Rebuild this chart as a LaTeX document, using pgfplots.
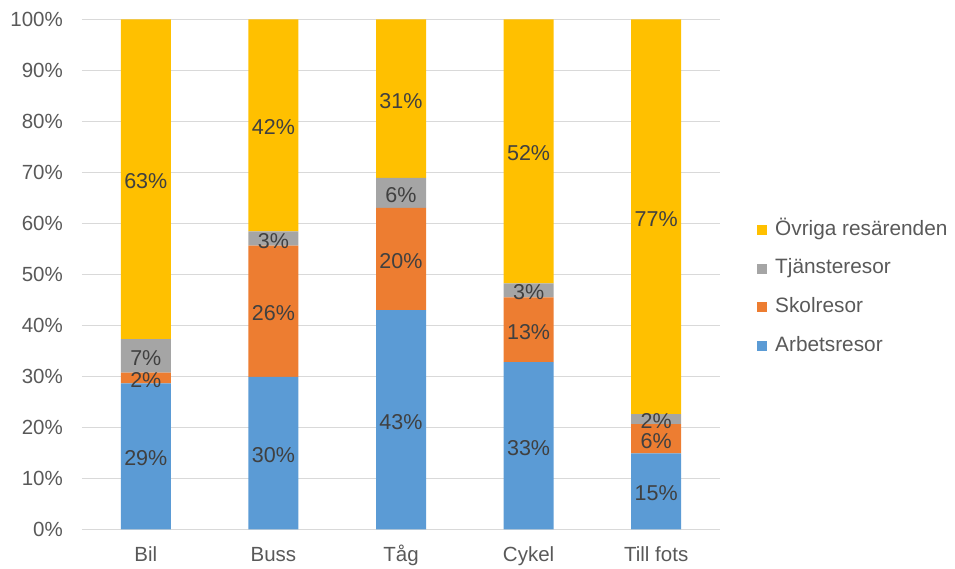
\documentclass[border=0pt]{standalone}
\usepackage{fontspec}
\setmainfont{Liberation Sans}
\usepackage{pgfplots}
\usepackage{pgfplotstable}
\pgfplotsset{compat=1.18}
\definecolor{cBlue}{HTML}{5B9BD5}
\definecolor{cOrange}{HTML}{ED7D31}
\definecolor{cGray}{HTML}{A5A5A5}
\definecolor{cYellow}{HTML}{FFC000}
\definecolor{gridgray}{HTML}{D9D9D9}
\definecolor{ticktext}{HTML}{595959}
\definecolor{labtext}{HTML}{404040}

\pgfplotstableread{
x arb sko tja ovr
0 28.6 2.1 6.6 62.7
1 29.9 25.7 2.8 41.6
2 43.0 20.0 5.9 31.1
3 32.8 12.7 2.7 51.8
4 14.9 5.7 2.0 77.4
}\data

\begin{document}
\begin{tikzpicture}
\useasboundingbox (-82pt,-38.7pt) rectangle (873pt,529.3pt);
\begin{axis}[
  scale only axis,
  width=638pt, height=510pt,
  ybar stacked,
  bar width=50pt,
  xmin=-0.5, xmax=4.5,
  ymin=0, ymax=100,
  xtick={0,1,2,3,4},
  xticklabels={Bil,Buss,Tåg,Cykel,Till fots},
  ytick={0,10,...,100},
  yticklabel={\pgfmathprintnumber{\tick}\%},
  /pgf/number format/assume math mode=true,
  major tick length=0pt,
  axis line style={draw=none},
  ymajorgrids,
  major grid style={draw=gridgray, line width=1pt},
  tick label style={font=\fontsize{20.5}{24}\selectfont, text=ticktext},
  yticklabel style={anchor=east, inner sep=0pt, xshift=-19pt},
  xticklabel style={anchor=north, inner sep=0pt, text height=14.7pt, text depth=4pt, yshift=-17.4pt},
  nodes near coords={\pgfmathprintnumber[fixed,precision=0]{\segval}\%},
  every node near coord/.append style={anchor=center, yshift=-2pt,
     font=\fontsize{21.5}{25}\selectfont, text=labtext, inner sep=0pt},
  legend style={at={(1.058,0.473)}, anchor=west, draw=none, fill=none,
     inner sep=0pt, row sep=19.6pt, column sep=8pt,
     font=\fontsize{20.8}{24}\selectfont, text=ticktext,
     nodes={inner sep=0pt, text height=14.7pt, text depth=4.3pt}},
  legend cell align=left,
  reverse legend,
  legend image code/.code={\fill[#1] (0pt,-5pt) rectangle (10pt,5pt);},
]
\addplot[fill=cBlue, draw=none, visualization depends on={\thisrow{arb} \as \segval}] table[x=x,y=arb]{\data};
\addlegendentry{Arbetsresor}
\addplot[fill=cOrange, draw=none, visualization depends on={\thisrow{sko} \as \segval}] table[x=x,y=sko]{\data};
\addlegendentry{Skolresor}
\addplot[fill=cGray, draw=none, visualization depends on={\thisrow{tja} \as \segval}] table[x=x,y=tja]{\data};
\addlegendentry{Tjänsteresor}
\addplot[fill=cYellow, draw=none, visualization depends on={\thisrow{ovr} \as \segval}] table[x=x,y=ovr]{\data};
\addlegendentry{Övriga resärenden}
\end{axis}
\end{tikzpicture}
\end{document}
